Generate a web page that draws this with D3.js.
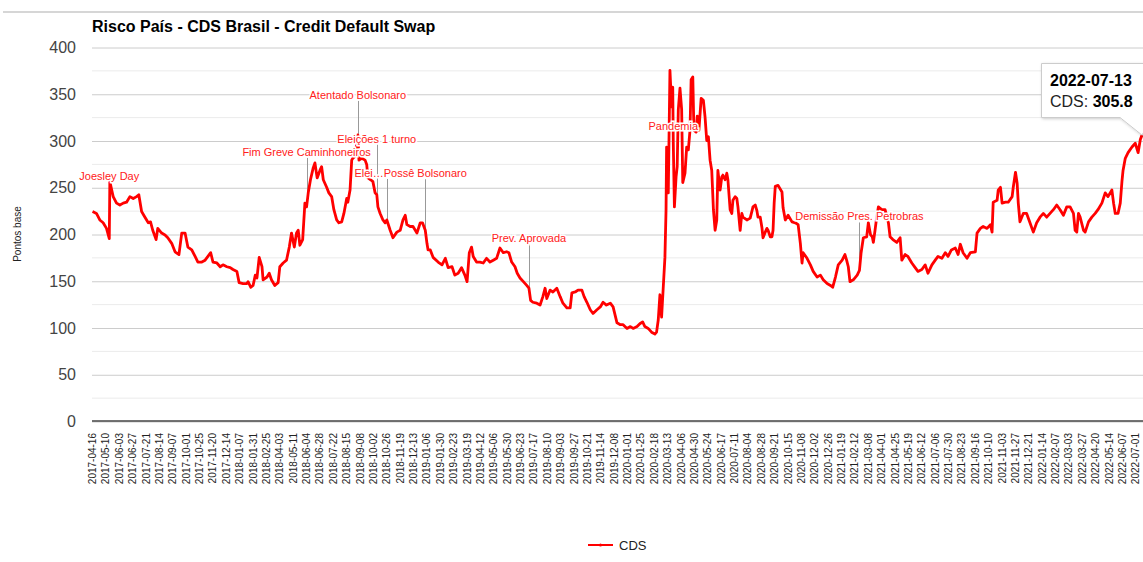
<!DOCTYPE html>
<html>
<head>
<meta charset="utf-8">
<script src="https://d3js.org/d3.v7.min.js"></script>
<style>
  body { margin: 0; background: #fff; }
  svg { font-family: "Liberation Sans", Arial, sans-serif; display: block; }
</style>
</head>
<body>
<script>
// DATA

var tickDates = [
  "2017-04-16", "2017-05-10", "2017-06-03", "2017-06-27", "2017-07-21", "2017-08-14", "2017-09-07", "2017-10-01",
  "2017-10-25", "2017-11-20", "2017-12-14", "2018-01-07", "2018-01-31", "2018-02-25", "2018-04-03", "2018-05-11",
  "2018-06-04", "2018-06-28", "2018-07-22", "2018-08-15", "2018-09-08", "2018-10-02", "2018-10-26", "2018-11-19",
  "2018-12-13", "2019-01-06", "2019-01-30", "2019-02-23", "2019-03-19", "2019-04-12", "2019-05-06", "2019-05-30",
  "2019-06-23", "2019-07-17", "2019-08-10", "2019-09-03", "2019-09-27", "2019-10-21", "2019-11-14", "2019-12-08",
  "2020-01-01", "2020-01-25", "2020-02-18", "2020-03-13", "2020-04-06", "2020-04-30", "2020-05-24", "2020-06-17",
  "2020-07-11", "2020-08-04", "2020-08-28", "2020-09-21", "2020-10-15", "2020-11-08", "2020-12-02", "2020-12-26",
  "2021-01-19", "2021-02-12", "2021-03-08", "2021-04-01", "2021-04-25", "2021-05-19", "2021-06-12", "2021-07-06",
  "2021-07-30", "2021-08-23", "2021-09-16", "2021-10-10", "2021-11-03", "2021-11-27", "2021-12-21", "2022-01-14",
  "2022-02-07", "2022-03-03", "2022-03-27", "2022-04-20", "2022-05-14", "2022-06-07", "2022-07-01"
];
var obsPerTick = 24;   // observations between two labelled dates
var lastObs = 1884;    // 2022-07-13

var cdsSeries = [
  [1,224],[8,222],[14,215],[20,212],[26,206],[31,195],[32,256],[38,240],[44,233],[50,231],[56,233],[62,234],
  [68,240],[74,238],[80,240],[84,242],[89,224],[95,218],[101,212],[105,213],[109,204],[115,194],[118,206],
  [125,201],[131,199],[136,196],[143,190],[149,181],[156,178],[161,201],[167,201],[172,186],[179,183],[185,176],
  [190,170],[197,170],[203,172],[208,176],[213,180],[217,170],[224,169],[230,165],[235,167],[242,165],[248,164],
  [253,162],[260,160],[264,148],[271,147],[278,147],[280,149],[285,143],[289,145],[293,156],[296,153],[300,175],
  [305,165],[307,151],[314,154],[318,158],[322,151],[328,145],[334,148],[337,165],[343,169],[349,172],[354,186],
  [358,201],[363,186],[367,201],[370,204],[373,188],[378,194],[382,233],[385,229],[388,244],[392,258],[397,271],
  [400,276],[404,260],[409,268],[412,272],[415,258],[421,250],[425,244],[430,240],[434,226],[439,215],[443,212],
  [448,213],[452,222],[457,238],[459,234],[463,247],[466,279],[468,281],[472,283],[477,306],[479,279],[484,281],
  [490,279],[493,274],[495,260],[500,258],[504,256],[508,244],[511,242],[513,229],[517,222],[522,215],[526,212],
  [529,215],[535,204],[540,196],[547,202],[553,204],[558,215],[562,220],[565,210],[571,208],[576,208],[583,201],
  [589,212],[593,212],[598,204],[601,190],[603,183],[607,183],[612,175],[621,170],[628,167],[634,174],[639,164],
  [646,165],[651,156],[657,158],[663,164],[669,156],[673,149],[677,180],[681,186],[684,176],[690,170],[696,170],
  [702,169],[708,174],[714,170],[720,172],[726,174],[732,185],[738,180],[744,181],[748,180],[753,170],[759,165],
  [763,158],[768,153],[774,149],[780,145],[784,142],[787,129],[791,127],[798,126],[804,124],[809,133],[813,142],
  [816,131],[822,140],[827,138],[834,142],[840,133],[845,126],[852,121],[858,121],[861,137],[867,138],[872,140],
  [879,140],[883,133],[888,127],[894,119],[899,115],[906,119],[912,122],[917,127],[923,124],[930,126],[935,122],
  [942,105],[948,103],[953,103],[960,99],[966,101],[971,99],[978,101],[983,104],[988,106],[992,101],[998,99],
  [1004,95],[1010,93],[1013,95],[1016,108],[1019,135],[1022,111],[1025,143],[1028,175],[1030,226],[1031,293],
  [1034,244],[1037,375],[1040,336],[1042,357],[1043,297],[1045,229],[1048,261],[1050,272],[1052,333],[1055,356],
  [1058,333],[1060,255],[1064,265],[1067,293],[1070,290],[1073,311],[1075,365],[1078,368],[1080,311],[1084,309],
  [1086,326],[1089,311],[1093,345],[1097,343],[1100,325],[1103,300],[1106,304],[1109,279],[1112,268],[1115,226],
  [1118,204],[1121,215],[1123,268],[1127,247],[1130,261],[1132,263],[1136,258],[1139,265],[1141,258],[1145,226],
  [1148,222],[1150,236],[1154,240],[1157,238],[1159,229],[1163,204],[1166,222],[1168,218],[1175,215],[1181,217],
  [1186,229],[1190,231],[1193,225],[1195,218],[1199,218],[1202,207],[1204,196],[1208,202],[1211,206],[1213,204],
  [1217,197],[1220,197],[1222,204],[1224,233],[1226,251],[1231,252],[1238,245],[1240,228],[1244,215],[1249,220],
  [1256,213],[1262,212],[1267,210],[1271,190],[1274,169],[1276,180],[1283,174],[1289,167],[1294,160],[1301,154],
  [1307,156],[1312,151],[1319,147],[1325,145],[1329,143],[1334,154],[1339,167],[1346,172],[1351,178],[1354,172],
  [1357,165],[1360,149],[1366,151],[1373,156],[1377,161],[1380,180],[1384,196],[1390,197],[1393,212],[1397,199],
  [1400,197],[1402,191],[1405,204],[1408,218],[1411,229],[1417,226],[1423,226],[1429,212],[1432,197],[1437,194],
  [1444,191],[1450,196],[1453,172],[1459,178],[1464,176],[1471,169],[1477,164],[1482,160],[1489,162],[1495,167],
  [1500,158],[1507,167],[1513,172],[1518,176],[1525,174],[1531,180],[1536,176],[1542,183],[1549,185],[1554,178],
  [1558,189],[1563,180],[1570,174],[1576,180],[1585,181],[1588,201],[1594,206],[1599,208],[1606,206],[1612,210],
  [1615,202],[1617,234],[1624,236],[1626,247],[1630,250],[1633,233],[1639,234],[1644,234],[1651,240],[1653,250],
  [1657,266],[1660,254],[1662,233],[1665,213],[1671,222],[1677,222],[1683,212],[1689,202],[1695,212],[1701,218],
  [1707,222],[1713,218],[1719,222],[1725,226],[1731,231],[1737,226],[1743,220],[1749,229],[1755,229],[1761,222],
  [1764,204],[1767,202],[1770,222],[1773,218],[1779,204],[1782,202],[1788,213],[1794,218],[1800,222],[1805,226],
  [1812,233],[1818,244],[1823,240],[1830,247],[1833,233],[1836,222],[1841,222],[1845,233],[1848,256],[1850,268],
  [1854,281],[1859,287],[1866,293],[1872,297],[1877,287],[1881,301],[1884,305.8]
];

var annoObs  = [31, 385, 477, 511, 529, 598, 784, 1043, 1377];
var annoText = ["Joesley Day", "Fim Greve Caminhoneiros", "Atentado Bolsonaro", "Eleições 1 turno",
                "Elei\u2026", "Possê Bolsonaro", "Prev. Aprovada", "Pandemia", "Demissão Pres. Petrobras"];

var yTicks = [0, 50, 100, 150, 200, 250, 300, 350, 400];

// LAYOUT

var W = 1143, H = 562;
var plotLeft = 92, plotRight = 1142, plotTop = 47, plotBottom = 421;
var annoLift   = [59, 51, 36, 52, 43, 53, 46, 13, 50];   // stem length in px
var annoDx     = [0, 0, 0, 0, -3, 0, 0, 0, 0];
var annoAnchor = ["middle", "middle", "middle", "middle", "end", "middle", "middle", "middle", "middle"];

var svg = d3.select("body").append("svg").attr("width", W).attr("height", H);

var x = d3.scaleLinear().domain([0, lastObs]).range([plotLeft, plotRight]);
var y = d3.scaleLinear().domain([0, 400]).range([plotBottom, plotTop]);

// frame line on top
svg.append("line").attr("x1", 3).attr("x2", W).attr("y1", 12).attr("y2", 12)
   .attr("stroke", "#c8c8c8").attr("stroke-width", 1.5);

// title
svg.append("text").attr("x", 92).attr("y", 32)
   .attr("font-size", 16).attr("font-weight", "bold").attr("fill", "#000")
   .text("Risco País - CDS Brasil - Credit Default Swap");

// minor grid
svg.append("g").selectAll("line")
   .data(d3.range(25, 401, 50))
   .join("line")
   .attr("x1", plotLeft).attr("x2", W)
   .attr("y1", function(d) { return y(d) + 0.5; }).attr("y2", function(d) { return y(d) + 0.5; })
   .attr("stroke", "#ebebeb");

// y axis with major grid
var yAxis = svg.append("g").attr("transform", "translate(" + plotLeft + ",0.5)")
   .call(d3.axisLeft(y).tickValues(yTicks).tickSize(-(W - plotLeft)).tickPadding(16));
yAxis.select(".domain").remove();
yAxis.selectAll("line").attr("stroke", "#cccccc");
yAxis.selectAll("text").attr("font-size", 16).attr("fill", "#444").attr("font-family", "Liberation Sans, Arial, sans-serif");

// baseline
svg.append("line").attr("x1", plotLeft).attr("x2", W).attr("y1", y(0)).attr("y2", y(0))
   .attr("stroke", "#444").attr("stroke-width", 1.5);

// y axis title
svg.append("text")
   .attr("transform", "translate(21," + ((plotTop + plotBottom) / 2) + ") rotate(-90)")
   .attr("text-anchor", "middle").attr("font-size", 10).attr("fill", "#222")
   .text("Pontos base");

// x axis
var xAxis = svg.append("g").attr("transform", "translate(0," + plotBottom + ")")
   .call(d3.axisBottom(x)
     .tickValues(tickDates.map(function(d, i) { return i * obsPerTick; }))
     .tickFormat(function(d, i) { return tickDates[i]; })
     .tickSize(0));
xAxis.select(".domain").remove();
xAxis.selectAll("text")
   .attr("transform", "rotate(-90)")
   .attr("x", -12).attr("y", 0).attr("dy", "0.35em")
   .style("text-anchor", "end")
   .attr("font-size", 10).attr("fill", "#222")
   .attr("font-family", "Liberation Sans, Arial, sans-serif");

// ANNOTATION STEMS

function valueAt(obs) {
  var p = cdsSeries.find(function(d) { return d[0] === obs; });
  return p ? p[1] : 0;
}

var anno = annoObs.map(function(o, i) {
  return { obs: o, text: annoText[i], lift: annoLift[i], dx: annoDx[i], anchor: annoAnchor[i], v: valueAt(o) };
});

svg.append("g").selectAll("line")
   .data(anno)
   .join("line")
   .attr("x1", function(d) { return Math.round(x(d.obs)) + 0.5; })
   .attr("x2", function(d) { return Math.round(x(d.obs)) + 0.5; })
   .attr("y1", function(d) { return y(d.v); })
   .attr("y2", function(d) { return y(d.v) - d.lift + 2; })
   .attr("stroke", "#999").attr("stroke-width", 1);

// CDS LINE

var line = d3.line()
   .x(function(d) { return x(d[0]); })
   .y(function(d) { return y(d[1]); });

svg.append("path")
   .datum(cdsSeries)
   .attr("d", line)
   .attr("fill", "none")
   .attr("stroke", "#ff0000")
   .attr("stroke-width", 2.8)
   .attr("stroke-linejoin", "round");

// ANNOTATION LABELS

svg.append("g").selectAll("text")
   .data(anno)
   .join("text")
   .attr("x", function(d) { return x(d.obs) + d.dx; })
   .attr("y", function(d) { return y(d.v) - d.lift; })
   .attr("text-anchor", function(d) { return d.anchor; })
   .attr("font-size", 11)
   .attr("fill", "#ff2020")
   .attr("stroke", "#fff").attr("stroke-width", 3).attr("paint-order", "stroke")
   .text(function(d) { return d.text; });

// LEGEND

var leg = svg.append("g");
leg.append("line").attr("x1", 588).attr("x2", 613).attr("y1", 545).attr("y2", 545)
   .attr("stroke", "#ff0000").attr("stroke-width", 2);
leg.append("circle").attr("cx", 600.5).attr("cy", 545).attr("r", 1.5).attr("fill", "#ff0000");
leg.append("text").attr("x", 619).attr("y", 550).attr("font-size", 13).attr("fill", "#222").text("CDS");

// TOOLTIP

var last = cdsSeries[cdsSeries.length - 1];
var defs = svg.append("defs");
var f = defs.append("filter").attr("id", "shadow").attr("x", "-20%").attr("y", "-20%").attr("width", "140%").attr("height", "160%");
f.append("feDropShadow").attr("dx", 1).attr("dy", 1).attr("stdDeviation", 1.5).attr("flood-color", "#000").attr("flood-opacity", 0.2);

var tip = svg.append("g");
var px = x(last[0]), py = y(last[1]);
tip.append("path")
   .attr("d", "M1041.5,63.5 H1160 V117.5 H" + (px + 10) + " L" + px + "," + py + " L1120,117.5 H1041.5 Z")
   .attr("fill", "#fff").attr("stroke", "#ccc").attr("filter", "url(#shadow)");
tip.append("text").attr("x", 1050).attr("y", 86).attr("font-size", 16).attr("font-weight", "bold").attr("fill", "#000")
   .text("2022-07-13");
var t2 = tip.append("text").attr("x", 1050).attr("y", 107).attr("font-size", 16).attr("fill", "#222");
t2.append("tspan").text("CDS: ");
t2.append("tspan").attr("font-weight", "bold").attr("fill", "#000").text(last[1].toFixed(1));
</script>
</body>
</html>
